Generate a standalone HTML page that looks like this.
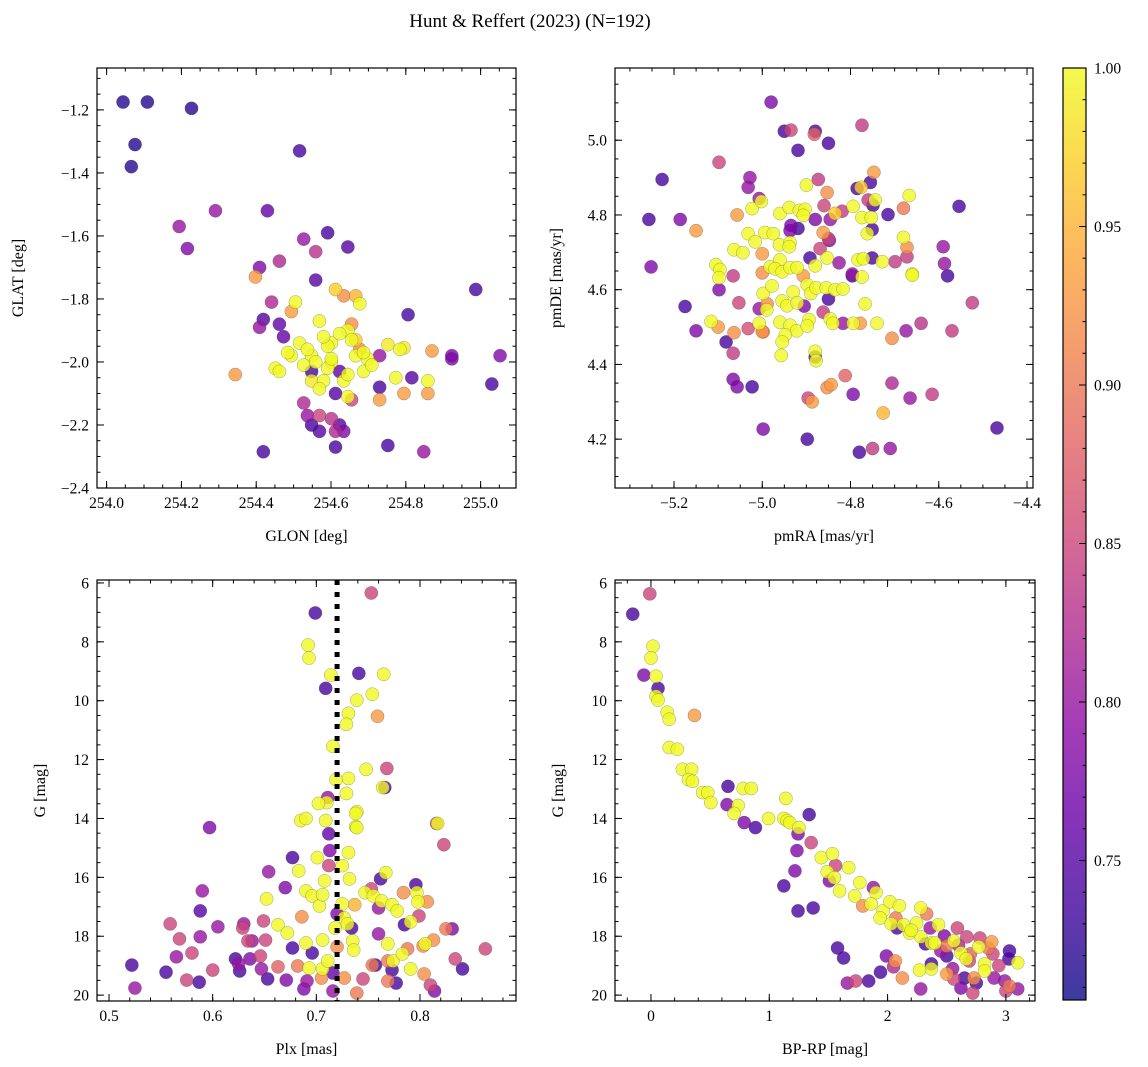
<!DOCTYPE html>
<html><head><meta charset="utf-8"><style>
html,body{margin:0;padding:0;background:#fff}
svg{display:block;font-family:"Liberation Serif",serif}
</style></head><body>
<svg id="fig" width="1148" height="1067" viewBox="0 0 1148 1067" xmlns="http://www.w3.org/2000/svg">
<text x="530" y="27" font-size="19" text-anchor="middle">Hunt &amp; Reffert (2023) (N=192)</text>
</svg>
<script>
// ---- Panel 1: GLON / GLAT ----
const p1Glon=[254.044,254.227,254.076,254.066,254.291,254.194,254.216,254.430,254.516,254.527,254.559,254.591,254.645,254.409,254.398,254.462,254.559,254.634,254.666,254.677,254.612,254.441,254.505,254.494,254.419,254.409,254.462,254.473,254.569,254.655,254.806,254.752,254.784,254.795,254.870,254.923,254.730,254.494,254.548,254.601,254.527,254.601,254.666,254.677,254.666,254.623,254.687,254.451,254.462,254.344,254.548,254.580,254.634,254.548,254.569,254.612,254.645,254.730,254.773,254.816,254.859,254.795,254.859,254.730,254.527,254.537,254.569,254.601,254.655,254.548,254.569,254.623,254.612,254.634,254.612,254.752,254.419,254.848,254.987,255.052,255.030,254.923,254.109,254.591,254.516,254.580,254.645,254.698,254.537,254.623,254.559,254.591,254.687,254.655,254.709,254.484,254.601,254.645];
const p1Glat=[-1.175,-1.195,-1.31,-1.38,-1.52,-1.57,-1.64,-1.52,-1.33,-1.61,-1.65,-1.59,-1.635,-1.70,-1.73,-1.68,-1.74,-1.79,-1.79,-1.815,-1.77,-1.81,-1.81,-1.84,-1.865,-1.89,-1.88,-1.92,-1.87,-1.88,-1.85,-1.945,-1.96,-1.955,-1.965,-1.98,-1.98,-1.98,-1.98,-1.94,-2.01,-2.0,-1.98,-1.96,-1.93,-2.03,-2.03,-2.02,-2.03,-2.04,-2.06,-2.06,-2.06,-2.03,-2.085,-2.1,-2.11,-2.08,-2.05,-2.05,-2.06,-2.1,-2.1,-2.12,-2.13,-2.17,-2.17,-2.18,-2.12,-2.2,-2.22,-2.2,-2.22,-2.22,-2.27,-2.265,-2.285,-2.285,-1.77,-1.98,-2.07,-1.99,-1.175,-1.95,-1.94,-1.92,-1.9,-1.99,-1.96,-1.91,-2.0,-2.02,-1.97,-1.93,-2.01,-1.97,-1.99,-2.04];
const p1Prob=[0.72,0.72,0.72,0.72,0.8,0.8,0.78,0.76,0.74,0.8,0.83,0.74,0.75,0.78,0.93,0.82,0.75,0.92,0.95,1.0,0.97,0.82,1.0,0.93,0.75,0.8,0.76,0.76,1.0,0.92,0.74,0.99,1.0,0.99,0.93,0.78,0.8,1.0,1.0,1.0,1.0,1.0,1.0,0.92,0.97,0.76,1.0,1.0,1.0,0.93,0.99,1.0,1.0,0.74,1.0,0.75,1.0,0.74,1.0,0.75,1.0,0.93,0.93,0.93,0.82,0.8,0.85,0.83,0.85,0.74,0.75,0.75,0.82,0.78,0.74,0.74,0.74,0.8,0.74,0.78,0.74,0.78,0.72,1.0,1.0,1.0,1.0,1.0,1.0,1.0,1.0,1.0,1.0,1.0,1.0,1.0,1.0,1.0];

// ---- Panel 2: pmRA / pmDE ----
const p2Pmra=[-4.98,-4.95,-4.935,-4.88,-4.882,-4.85,-4.919,-4.774,-5.098,-5.227,-5.028,-5.032,-5.257,-5.186,-5.15,-5.252,-5.057,-5.023,-5.007,-5.002,-4.96,-4.939,-4.916,-4.903,-4.907,-4.9,-4.873,-4.853,-4.86,-4.835,-4.819,-4.794,-4.88,-4.846,-4.935,-4.919,-4.937,-4.862,-4.85,-4.848,-4.869,-4.892,-4.88,-4.853,-4.826,-4.785,-4.776,-4.755,-4.747,-4.76,-4.744,-4.749,-4.774,-4.753,-4.762,-4.751,-4.715,-4.68,-4.667,-4.68,-4.672,-4.672,-4.66,-4.699,-4.728,-4.783,-4.771,-4.751,-4.796,-4.59,-4.587,-4.58,-4.554,-5.064,-5.044,-5.032,-5.016,-4.994,-4.975,-4.961,-4.937,-4.939,-5.0,-4.96,-5.105,-5.096,-5.098,-5.066,-5.0,-4.982,-4.971,-4.955,-4.937,-4.921,-4.907,-4.998,-4.978,-4.955,-4.944,-4.93,-4.921,-4.905,-4.898,-4.89,-4.878,-4.855,-4.835,-4.817,-4.85,-4.767,-4.862,-4.846,-4.84,-4.817,-4.794,-4.778,-4.74,-4.99,-5.007,-4.989,-5.007,-4.998,-4.96,-4.937,-4.922,-4.948,-4.955,-4.957,-4.894,-4.898,-4.88,-4.878,-4.796,-4.774,-4.66,-4.674,-4.64,-4.706,-4.524,-4.57,-5.175,-5.15,-5.098,-5.116,-5.1,-5.064,-5.032,-5.0,-5.053,-5.082,-5.066,-5.057,-5.023,-5.066,-4.896,-4.887,-4.853,-4.844,-4.812,-4.794,-4.706,-4.665,-4.615,-4.726,-4.78,-4.75,-4.71,-4.468,-4.898,-4.998,-4.88];
const p2Pmde=[5.102,5.024,5.027,5.024,5.016,4.992,4.973,5.04,4.941,4.895,4.9,4.874,4.788,4.788,4.758,4.661,4.8,4.817,4.844,4.836,4.804,4.82,4.812,4.815,4.799,4.88,4.895,4.86,4.825,4.804,4.81,4.823,4.788,4.788,4.772,4.764,4.758,4.753,4.737,4.732,4.71,4.685,4.664,4.685,4.672,4.871,4.874,4.887,4.914,4.84,4.84,4.826,4.793,4.793,4.75,4.761,4.801,4.818,4.852,4.74,4.713,4.688,4.642,4.675,4.675,4.68,4.683,4.685,4.642,4.715,4.67,4.637,4.823,4.707,4.699,4.75,4.728,4.753,4.75,4.72,4.726,4.715,4.696,4.68,4.667,4.654,4.632,4.637,4.645,4.661,4.656,4.648,4.659,4.659,4.637,4.59,4.61,4.57,4.557,4.594,4.565,4.556,4.613,4.59,4.605,4.605,4.6,4.602,4.575,4.562,4.54,4.522,4.51,4.51,4.51,4.51,4.51,4.546,4.549,4.562,4.51,4.487,4.513,4.505,4.49,4.479,4.46,4.424,4.52,4.503,4.435,4.41,4.637,4.634,4.639,4.49,4.51,4.47,4.565,4.49,4.555,4.49,4.6,4.515,4.5,4.485,4.496,4.488,4.565,4.46,4.36,4.34,4.34,4.43,4.31,4.30,4.338,4.346,4.37,4.32,4.35,4.31,4.32,4.27,4.165,4.175,4.175,4.23,4.2,4.227,4.42];
const p2Prob=[0.78,0.74,0.85,0.74,0.88,0.74,0.74,0.84,0.85,0.74,0.8,0.8,0.74,0.78,0.93,0.78,0.93,1,0.8,1,1,1,1,1,1,1,0.84,0.92,0.85,0.97,0.84,1,0.78,0.8,0.78,0.74,0.78,0.93,0.85,0.78,0.85,0.74,1,1,0.8,0.74,0.97,0.74,0.93,0.84,1,0.74,1,1,1,0.74,0.74,0.9,1,1,0.92,0.84,1,0.84,1,1,1,0.74,0.8,0.8,0.8,0.74,0.74,1,1,1,1,1,1,1,1,1,0.93,1,1,1,1,0.84,0.92,1,1,1,1,1,0.93,1,1,1,1,1,1,0.78,1,1,1,1,1,1,0.74,1,0.84,1,1,0.8,1,0.93,1,1,0.8,0.92,1,0.92,1,1,1,1,1,1,1,1,1,1,0.74,1,1,0.8,0.83,0.92,0.84,0.84,0.74,0.78,0.78,1,0.93,0.92,0.86,0.92,0.85,0.74,0.78,0.78,0.74,0.84,0.85,0.93,0.92,0.93,0.88,0.78,0.82,0.8,0.84,0.95,0.74,0.84,0.8,0.74,0.74,0.78,0.74];

// ---- Panel 3: Plx / G ----
const p3Plx=[0.753,0.699,0.692,0.693,0.741,0.765,0.714,0.709,0.739,0.754,0.731,0.729,0.759,0.716,0.748,0.768,0.719,0.731,0.766,0.729,0.711,0.710,0.702,0.739,0.685,0.690,0.709,0.738,
0.522,0.525,0.555,0.559,0.568,0.565,0.575,0.580,0.587,0.588,0.588,0.590,0.597,0.600,0.605,0.622,0.625,0.626,0.630,0.629,0.634,0.638,0.636,0.646,0.647,0.649,0.651,0.653,0.654,0.652,0.663,0.663,0.670,0.671,0.672,0.677,0.677,0.682,0.683,0.686,0.688,0.690,0.690,0.691,0.693,0.696,0.696,0.701,0.703,0.705,0.706,0.706,0.706,0.708,0.711,0.712,0.713,0.712,0.716,0.716,0.718,0.720,0.720,0.725,0.725,0.727,0.727,0.730,0.731,0.732,0.734,0.735,0.736,0.737,0.738,0.739,0.739,0.745,0.747,0.753,0.754,0.755,0.757,0.760,0.760,0.763,0.762,0.764,0.767,0.769,0.769,0.769,0.773,0.774,0.773,0.777,0.778,0.783,0.784,0.785,0.788,0.791,0.791,0.796,0.797,0.798,0.799,0.803,0.805,0.804,0.807,0.813,0.810,0.814,0.816,0.823,0.825,0.831,0.834,0.841,0.863,0.817];
const p3G=[6.34,7.02,8.11,8.55,9.07,9.10,9.13,9.58,9.98,9.78,10.43,10.80,10.53,11.55,12.33,12.30,12.68,12.64,12.95,13.15,13.29,13.46,13.49,13.77,14.07,14.0,14.07,14.28,
18.98,19.76,19.22,17.58,18.09,18.70,19.49,18.57,19.56,18.02,17.14,16.46,14.31,19.15,17.68,18.77,18.94,19.18,17.58,17.72,18.16,18.16,18.77,18.67,19.11,17.48,18.13,19.45,15.81,16.73,17.61,19.04,16.35,19.49,17.89,18.40,15.33,19.01,15.78,17.34,19.79,16.46,18.23,19.52,19.08,16.63,18.57,15.33,16.97,19.42,16.59,18.13,19.11,16.12,18.84,14.52,15.09,15.60,19.25,19.86,17.72,18.36,17.24,15.60,16.90,17.38,19.42,17.58,15.16,16.05,17.72,18.16,18.47,16.93,13.83,14.31,19.93,19.45,16.52,16.39,18.98,16.63,18.98,17.04,17.92,16.80,16.05,12.95,15.84,18.26,19.52,18.84,16.93,18.84,19.15,19.59,17.14,18.60,16.52,17.61,18.43,17.51,19.11,16.25,16.52,16.83,17.31,18.33,18.26,19.28,16.83,18.13,19.66,19.86,14.17,14.89,17.75,17.75,18.77,19.11,18.43,14.17];
const p3Prob=[0.85,0.74,1,1,0.74,1,1,0.74,1,1,1,1,0.93,1,1,0.85,1,1,0.74,1,0.8,1,1,1,1,1,1,1,
0.74,0.8,0.74,0.85,0.85,0.8,0.85,0.85,0.74,0.8,0.75,0.8,0.78,0.85,0.8,0.74,0.8,0.74,0.8,0.85,0.85,0.8,0.78,0.85,0.8,0.85,0.85,0.74,0.8,1,1,0.88,0.78,0.78,1,0.74,0.74,0.9,1,0.92,0.78,1,1,0.8,1,1,0.74,1,1,0.92,1,1,1,1,1,0.76,0.78,0.85,0.76,0.8,1,0.92,0.78,1,1,1,0.92,1,1,1,0.74,1,1,0.95,1,1,0.9,0.85,1,0.85,0.9,1,0.74,0.8,0.8,1,0.74,1,1,1,0.9,0.9,1,1,0.74,0.74,1,1,0.92,0.74,0.9,1,1,0.74,1,1,0.85,0.92,1,0.92,0.92,0.92,0.85,0.78,0.85,0.85,0.9,0.78,0.85,0.74,0.85,1,0.9,0.85,1,0.8];

// ---- Panel 4: BP-RP / G ----
const p4Bprp=[-0.154,-0.01,0.017,0.0,-0.06,0.043,0.06,0.043,0.06,0.137,0.154,0.368,0.154,0.223,0.266,0.343,0.317,0.351,0.437,0.48,0.506,0.651,0.78,0.848,0.643,0.737,0.703,0.788,0.883,0.994,1.14,1.123,1.15,1.174,1.251,1.243,1.337,1.354,1.234,1.217,1.123,1.243,1.371,1.44,1.534,1.56,1.49,1.508,1.55,1.671,1.594,1.765,1.722,1.88,1.902,1.86,1.79,1.962,2.02,2.1,1.937,2.03,2.07,2.08,2.185,2.134,2.245,2.28,2.33,2.28,2.36,2.43,2.32,2.37,2.40,2.48,2.59,2.56,2.50,2.50,2.67,2.78,2.88,2.77,2.85,2.62,2.665,2.69,2.82,2.82,2.89,3.03,3.025,3.1,2.94,2.9,2.99,3.03,3.1,3.0,2.73,2.75,2.65,2.62,2.72,2.56,2.5,2.55,2.37,2.37,2.27,2.28,2.125,2.065,1.99,2.05,1.94,1.84,1.73,1.66,1.577,1.628,2.6,2.7,2.45,2.2];
const p4G=[7.06,6.37,8.15,8.55,9.13,9.17,9.58,9.85,9.98,10.39,10.63,10.50,11.59,11.65,12.33,12.33,12.68,12.74,13.12,13.12,13.46,12.91,12.98,12.98,13.53,13.56,13.83,14.14,14.31,14.0,13.32,14.0,14.07,14.14,14.31,14.52,13.87,14.82,15.09,15.78,16.29,17.14,17.04,15.33,15.2,15.6,15.81,16.12,16.01,15.67,16.46,16.18,16.63,16.35,16.52,16.9,16.97,17.14,16.83,16.97,17.38,17.58,17.38,17.72,17.89,17.61,17.55,17.04,17.24,18.02,17.72,17.61,18.26,18.23,18.23,17.99,17.72,18.16,18.33,18.67,18.02,18.06,18.19,18.36,18.4,18.57,18.77,18.84,18.94,19.18,18.6,18.5,18.77,18.9,19.0,19.42,19.52,19.69,19.79,19.86,19.42,19.59,19.42,19.76,19.93,19.45,19.28,19.1,19.11,18.94,19.15,19.79,19.42,18.84,18.67,19.04,19.22,19.52,19.52,19.59,18.40,18.74,18.3,18.6,18.5,17.8];
const p4Prob=[0.74,0.85,1,1,0.78,1,0.74,1,1,1,1,0.93,1,1,1,1,1,1,1,1,1,0.74,1,1,0.78,1,1,0.78,0.74,1,1,1,1,1,1,0.78,0.74,0.85,0.78,0.78,0.74,0.74,0.74,1,1,0.85,1,0.78,1,1,1,1,1,0.8,1,1,0.92,1,1,1,1,1,0.9,0.74,1,1,1,1,0.9,1,0.8,1,0.74,1,1,0.78,0.85,1,0.9,0.74,0.85,0.85,0.93,1,0.9,1,1,0.85,1,1,0.85,0.74,0.74,1,0.85,0.8,0.8,0.9,0.8,0.85,0.92,0.74,0.74,0.78,0.85,0.85,0.93,0.8,1,0.74,1,0.8,0.92,0.92,0.78,0.82,0.74,0.74,0.85,0.8,0.74,0.74,0.82,0.88,0.8,1];

const NS='http://www.w3.org/2000/svg';
const svg=document.getElementById('fig');
const PMIN=0.706,PMAX=1.0;
const stops=[[13,8,135],[65,4,157],[106,0,168],[143,13,164],[177,42,144],[204,71,120],[225,100,98],[242,132,75],[252,166,54],[252,206,37],[240,249,33]];
function plasma(t){if(!isFinite(t))t=1;t=Math.max(0,Math.min(1,t));const f=t*10,i=Math.min(9,Math.floor(f)),u=f-i;const a=stops[i],b=stops[i+1];return 'rgb('+a.map((v,k)=>Math.round(v+(b[k]-v)*u)).join(',')+')';}
function mk(tag,attrs,parent){const e=document.createElementNS(NS,tag);for(const k in attrs)e.setAttribute(k,attrs[k]);(parent||svg).appendChild(e);return e;}
function fmt(v,d){let s=v.toFixed(d);if(v<0)s='\u2212'+s.slice(1);return s;}

function panel(o){
  const g=mk('g',{});
  
  
  const sx=v=>o.x0+(v-o.xmin)/(o.xmax-o.xmin)*(o.x1-o.x0);
  const sy=o.inv?(v=>o.y0+(v-o.ymin)/(o.ymax-o.ymin)*(o.y1-o.y0)):(v=>o.y1-(v-o.ymin)/(o.ymax-o.ymin)*(o.y1-o.y0));
  const clip=mk('clipPath',{id:'c'+o.name},g);mk('rect',{x:o.x0,y:o.y0,width:o.x1-o.x0,height:o.y1-o.y0},clip);
  const pts=mk('g',{'clip-path':'url(#c'+o.name+')'},g);
  const n=Math.min(o.xs.length,o.ys.length,o.ps.length);
  const idx=[];for(let i=0;i<n;i++)idx.push(i);
  idx.sort((a,b)=>o.ps[a]-o.ps[b]);
  idx.forEach(i=>{
    const c=mk('circle',{cx:sx(o.xs[i]),cy:sy(o.ys[i]),r:6.6,fill:plasma((o.ps[i]-PMIN)/(PMAX-PMIN)),'fill-opacity':0.8,stroke:'rgba(60,60,60,0.45)','stroke-width':0.5},pts);
    
    
  });
  if(o.vline!==undefined){const l=mk('line',{x1:sx(o.vline),x2:sx(o.vline),y1:o.y0,y2:o.y1,stroke:'#000','stroke-width':5,'stroke-dasharray':'5,7'},g);
    
    }
  const tk=mk('g',{stroke:'#000','stroke-width':1},g);
  for(let v=o.xminT;v<=o.xmax+1e-9;v+=o.xminor){const X=sx(v);if(X<o.x0-0.5)continue;mk('line',{x1:X,x2:X,y1:o.y1,y2:o.y1-3.5},tk);mk('line',{x1:X,x2:X,y1:o.y0,y2:o.y0+3.5},tk);}
  for(let v=o.yminT;v<=o.ymax+1e-9;v+=o.yminor){const Y=sy(v);if(Y<o.y0-0.5||Y>o.y1+0.5)continue;mk('line',{x1:o.x0,x2:o.x0+3.5,y1:Y,y2:Y},tk);mk('line',{x1:o.x1,x2:o.x1-3.5,y1:Y,y2:Y},tk);}
  o.xt.forEach(v=>{const X=sx(v);mk('line',{x1:X,x2:X,y1:o.y1,y2:o.y1-7},tk);mk('line',{x1:X,x2:X,y1:o.y0,y2:o.y0+7},tk);
    const t=mk('text',{x:X,y:o.y1+20,'font-size':15.5,'text-anchor':'middle'},g);t.textContent=fmt(v,o.xd);
    
    });
  o.yt.forEach(v=>{const Y=sy(v);mk('line',{x1:o.x0,x2:o.x0+7,y1:Y,y2:Y},tk);mk('line',{x1:o.x1,x2:o.x1-7,y1:Y,y2:Y},tk);
    const t=mk('text',{x:o.x0-8,y:Y+5.5,'font-size':15.5,'text-anchor':'end'},g);t.textContent=fmt(v,o.yd);
    
    });
  mk('rect',{x:o.x0,y:o.y0,width:o.x1-o.x0,height:o.y1-o.y0,fill:'none',stroke:'#000','stroke-width':1.2},g);
  const xl=mk('text',{x:(o.x0+o.x1)/2,y:o.y1+53,'font-size':16,'text-anchor':'middle'},g);xl.textContent=o.xlab;
  
  
  const yx=o.ylx,yy=(o.y0+o.y1)/2;
  const yl=mk('text',{x:yx,y:yy,'font-size':16,'text-anchor':'middle',transform:'rotate(-90 '+yx+' '+yy+')'},g);yl.textContent=o.ylab;
  
  
}
const r=(a,b,s)=>{const o=[];for(let v=a;v<=b+1e-9;v+=s)o.push(+v.toFixed(4));return o;};
panel({name:'panel-glon-glat',x0:97,x1:516,y0:68,y1:488,xmin:253.9743,xmax:255.0946,ymin:-2.4,ymax:-1.067,xs:p1Glon,ys:p1Glat,ps:p1Prob,
  xt:r(254,255,0.2),yt:r(-2.4,-1.2,0.2),xminT:253.95,xminor:0.05,yminT:-2.4,yminor:0.05,xd:1,yd:1,xlab:'GLON [deg]',ylab:'GLAT [deg]',ylx:23});
panel({name:'panel-pm',x0:615,x1:1033,y0:68,y1:488,xmin:-5.3338,xmax:-4.3864,ymin:4.0693,ymax:5.1933,xs:p2Pmra,ys:p2Pmde,ps:p2Prob,
  xt:r(-5.2,-4.4,0.2),yt:r(4.2,5.0,0.2),xminT:-5.3,xminor:0.05,yminT:4.1,yminor:0.05,xd:1,yd:1,xlab:'pmRA [mas/yr]',ylab:'pmDE [mas/yr]',ylx:561});
panel({name:'panel-plx-g',x0:97,x1:516,y0:580,y1:1001,xmin:0.4884,xmax:0.8926,ymin:5.9,ymax:20.2,inv:true,xs:p3Plx,ys:p3G,ps:p3Prob,vline:0.72,
  xt:r(0.5,0.8,0.1),yt:r(6,20,2),xminT:0.48,xminor:0.02,yminT:6,yminor:0.5,xd:1,yd:0,xlab:'Plx [mas]',ylab:'G [mag]',ylx:45});
panel({name:'panel-cmd',x0:615,x1:1035,y0:580,y1:1001,xmin:-0.304,xmax:3.246,ymin:5.9,ymax:20.2,inv:true,xs:p4Bprp,ys:p4G,ps:p4Prob,
  xt:[0,1,2,3],yt:r(6,20,2),xminT:-0.2,xminor:0.2,yminT:6,yminor:0.5,xd:0,yd:0,xlab:'BP-RP [mag]',ylab:'G [mag]',ylx:563});

// ---- Colorbar ----
const cbTicks=[0.75,0.80,0.85,0.90,0.95,1.00];
const cb=mk('g',{});


const defs=mk('defs',{},cb);const lg=mk('linearGradient',{id:'cbg',x1:0,y1:1,x2:0,y2:0},defs);
for(let i=0;i<=20;i++)mk('stop',{offset:i/20,'stop-color':plasma(i/20),'stop-opacity':0.8},lg);
const CX0=1063,CX1=1086,CY0=68,CY1=1000;
const cy=v=>CY1-(v-PMIN)/(PMAX-PMIN)*(CY1-CY0);
mk('rect',{x:CX0,y:CY0,width:CX1-CX0,height:CY1-CY0,fill:'url(#cbg)'},cb);
for(let v=0.71;v<=1.0001;v+=0.01){mk('line',{x1:CX1,x2:CX1-3.5,y1:cy(v),y2:cy(v),stroke:'#000'},cb);}
cbTicks.forEach(v=>{mk('line',{x1:CX1,x2:CX1-7,y1:cy(v),y2:cy(v),stroke:'#000'},cb);
  const t=mk('text',{x:CX1+8,y:cy(v)+5.5,'font-size':15.5},cb);t.textContent=v.toFixed(2);
  
  });
mk('rect',{x:CX0,y:CY0,width:CX1-CX0,height:CY1-CY0,fill:'none',stroke:'#000','stroke-width':1.2},cb);
</script>
</body></html>
